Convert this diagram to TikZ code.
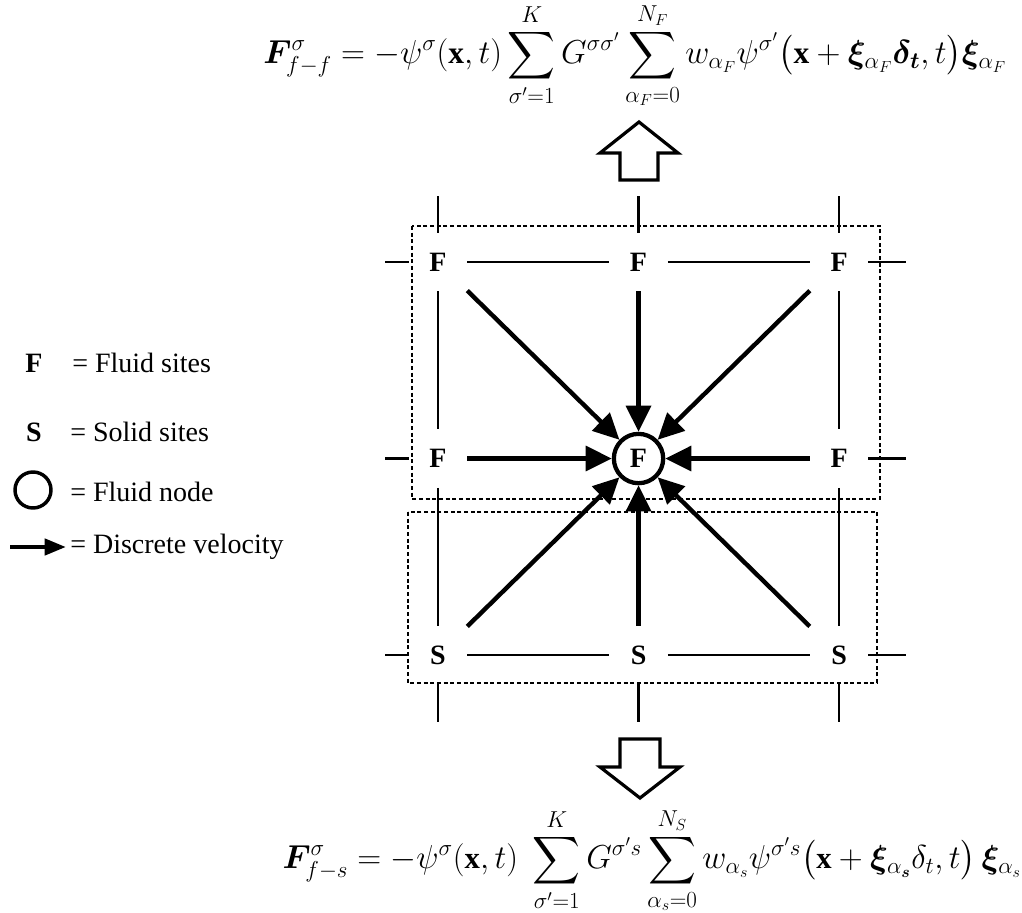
\documentclass[tikz,border=0pt]{standalone}
\usepackage{amsmath}
\usepackage{bm}
\usepackage{fontspec}
\setmainfont{Liberation Serif}
\usetikzlibrary{arrows.meta,positioning}

\begin{document}
\begin{tikzpicture}[
    x=0.75pt, y=-0.75pt,
    font=\fontsize{21}{25}\selectfont,
    node distance=103.5pt and 106.5pt,
    site/.style={minimum size=43.5pt, inner sep=0pt, font=\fontsize{21}{25}\selectfont\bfseries},
    fnode/.style={circle, draw, line width=3.2pt, minimum size=37pt, inner sep=0pt, font=\fontsize{21}{25}\selectfont\bfseries},
    grid/.style={line width=2.1pt},
    vel/.style={-{Triangle[length=19.5pt, width=18.5pt]}, line width=3.3pt},
    zone/.style={dash pattern=on 3pt off 2pt, line width=0.8pt},
    bigarrow/.style={line width=2.4pt, line join=miter},
    legend/.style={anchor=west, inner sep=0pt}
  ]
    \useasboundingbox (0,0) rectangle (1022,913);

    % lattice sites
    \node[site] (f1) at (438,262) {F};
    \node[site, right=of f1] (f2) {F};
    \node[site, right=of f2] (f3) {F};
    \node[site, below=of f1] (f4) {F};
    \node[site, below=of f3] (f5) {F};
    \node[fnode] (c) at (f2 |- f4) {F};
    \node[site, below=of f4] (s1) {S};
    \node[site, right=of s1] (s2) {S};
    \node[site, right=of s2] (s3) {S};

    % zones
    \draw[zone] (412,226) rectangle (880,499);
    \draw[zone] (408,512) rectangle (877,683);

    % grid lines
    \draw[grid] (f1) -- (f2);
    \draw[grid] (f2) -- (f3);
    \draw[grid] (s1) -- (s2);
    \draw[grid] (s2) -- (s3);
    \draw[grid] (f1) -- (f4);
    \draw[grid] (f4) -- (s1);
    \draw[grid] (f3) -- (f5);
    \draw[grid] (f5) -- (s3);
    \foreach \n in {f1,f2,f3} \draw[grid] (\n.north) -- ++(0,-37);
    \foreach \n in {s1,s2,s3} \draw[grid] (\n.south) -- ++(0,38);
    \foreach \n in {f1,f4,s1} \draw[grid] (\n.west) -- ++(-24,0);
    \foreach \n in {f3,f5,s3} \draw[grid] (\n.east) -- ++(38,0);

    % discrete velocities
    \foreach \n in {f1,f2,f3,f4,f5,s1,s2,s3} \draw[vel] (\n) -- (c);

    % block arrows
    \draw[bigarrow] (620,180) -- (620,153) -- (600,153) -- (639,122) -- (678,153) -- (658,153) -- (658,180) -- cycle;
    \draw[bigarrow] (620,739) -- (620,767) -- (600,767) -- (640,798) -- (680,767) -- (660,767) -- (660,739) -- cycle;

    % formulas
    \node[font=\fontsize{23.6}{28}\selectfont] (eqff) at (635,56) {$\displaystyle \bm{F}^{\sigma}_{f-f} = -\psi^{\sigma}(\mathbf{x},t)\sum_{\sigma'=1}^{K} G^{\sigma\sigma'} \sum_{\alpha_F=0}^{N_F} w_{\alpha_F}\psi^{\sigma'}\bigl(\mathbf{x}+\bm{\xi}_{\alpha_F}\bm{\delta}_{\bm{t}},t\bigr)\bm{\xi}_{\alpha_F}$};
    \node[font=\fontsize{23}{28}\selectfont] (eqfs) at (652,861) {$\displaystyle \bm{F}^{\sigma}_{f-s} = -\psi^{\sigma}(\mathbf{x},t)\;\sum_{\sigma'=1}^{K} G^{\sigma' s} \sum_{\alpha_s=0}^{N_S} w_{\alpha_s}\psi^{\sigma' s}\bigl(\mathbf{x}+\bm{\xi}_{\alpha_{\bm{s}}}\delta_{t},t\bigr)\,\bm{\xi}_{\alpha_s}$};

    % legend
    \node[site] (lf) at (34,363) {F};
    \node[legend] (lft) at (72,363) {= Fluid sites};
    \node[site] (ls) at (34,432) {S};
    \node[legend] (lst) at (70,432) {= Solid sites};
    \node[fnode, minimum size=27pt, line width=2.6pt] (lc) at (33,490) {};
    \node[legend] (lct) at (70,492) {= Fluid node};
    \coordinate (la1) at (10,547);
    \coordinate (la2) at (66,547);
    \draw[vel, -{Triangle[length=16pt, width=12pt]}] (la1) -- (la2);
    \node[legend] (lat) at (70,547) {= Discrete velocity};
  \end{tikzpicture}
\end{document}
